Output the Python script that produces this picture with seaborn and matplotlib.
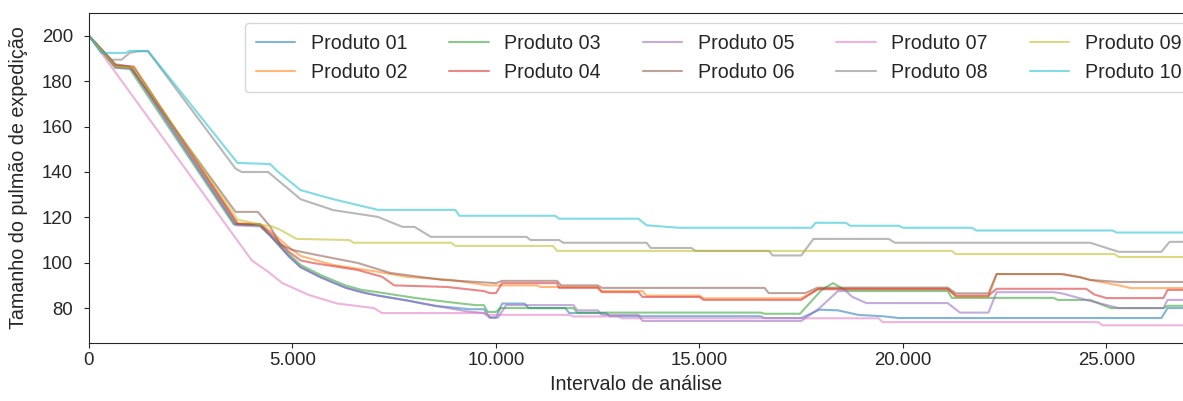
import pandas as pd
import seaborn as sns
import matplotlib.pyplot as plt
from matplotlib.ticker import FuncFormatter, MultipleLocator

# buffer size per product over the analysis interval (vertices)
names = ["Produto 01", "Produto 02", "Produto 03", "Produto 04", "Produto 05",
         "Produto 06", "Produto 07", "Produto 08", "Produto 09", "Produto 10"]

p01_x = [0, 650, 1050, 3600, 4200, 4450, 4900, 5200, 5700, 6300, 6700, 7100, 7800, 8500, 9350, 9700,
         9850, 10000, 10150, 10700, 10800, 11700, 11800, 12700, 12800, 16500, 16600, 17500, 17950,
         18400, 18900, 19500, 19900, 26350, 26500, 26900]
p01_y = [200, 186.5, 186, 117, 116.5, 112, 103, 98, 93.5, 89, 87, 85.5, 83.4, 81, 79.5, 79.5,
         75.8, 75.8, 82, 82, 80, 80, 77.8, 77.8, 76.4, 76.4, 75.6, 75.6, 79.3,
         79, 77, 76.4, 75.6, 75.6, 80, 80]

p02_x = [0, 650, 1100, 3650, 4200, 4450, 4900, 5200, 6000, 7100, 7800, 8900, 9800, 11000, 11100,
         12500, 12600, 13600, 13700, 15000, 15100, 17500, 17950, 21100, 21300, 22100, 22300, 23900,
         24350, 24600, 25300, 25600, 26900]
p02_y = [200, 187, 186, 117.5, 117, 114, 107, 103, 99, 96, 93.8, 92.4, 90, 90, 89.3,
         89.3, 87.5, 87.5, 85.5, 85.5, 84.3, 84.3, 88.6, 88.6, 85, 85, 95, 95,
         93.6, 92.4, 90, 88.8, 88.8]

p03_x = [0, 650, 1000, 3550, 4200, 4450, 4900, 5200, 5700, 6300, 6700, 7100, 8000, 8900, 9500,
         9700, 9800, 10000, 10100, 11900, 12000, 16500, 16600, 17470, 18000, 18280, 18620, 21100,
         21200, 23700, 23800, 24600, 25100, 26400, 26500, 26900]
p03_y = [200, 186, 185.5, 117, 116.5, 112, 104, 99, 94.5, 90, 88, 87, 84.5, 82.5, 81.3,
         81.3, 78.3, 78.3, 80, 80, 78, 78, 77.5, 77.5, 88, 91, 87.5, 87.5,
         84.5, 84.5, 83.6, 83.6, 80, 80, 81, 81]

p04_x = [0, 650, 1100, 3650, 4200, 4450, 4900, 5200, 5500, 6600, 7200, 7500, 8800, 9700, 9850,
         10000, 10150, 11500, 11550, 12500, 12600, 13500, 13600, 15000, 15100, 17500, 17900, 21100,
         21300, 22100, 22300, 24500, 24700, 25000, 26400, 26500, 26900]
p04_y = [200, 187, 186.5, 117, 117, 113, 105, 101, 99.9, 96.8, 93.8, 90, 89.3, 87.5, 86.6,
         86.6, 91, 91, 88.9, 88.9, 87, 87, 84.9, 84.9, 83.6, 83.6, 88.3, 88.3,
         85.5, 85.5, 88.5, 88.5, 86, 84.4, 84.4, 88, 88]

p05_x = [0, 650, 1050, 3600, 4200, 4450, 4900, 5200, 5700, 6300, 6700, 7100, 7800, 8500, 9300,
         9700, 9850, 10050, 10250, 11900, 12000, 12500, 12600, 13500, 13600, 17500, 17950, 18400,
         18600, 18750, 19100, 21100, 21400, 22100, 22300, 23700, 23900, 24500, 25300, 26400, 26500,
         26900]
p05_y = [200, 186, 185.5, 116.5, 116, 112, 103, 98, 93.5, 89, 87, 85.5, 83.4, 81, 78.5,
         77.8, 75.8, 75.8, 81.3, 81.3, 79, 79, 77, 77, 74.3, 74.3, 80, 87.5,
         87.5, 85, 82.2, 82.2, 78, 78, 87, 87, 86.5, 83.6, 80, 80, 83.6,
         83.6]

p06_x = [0, 650, 1000, 3600, 4150, 4450, 4700, 5000, 5600, 6600, 7400, 8700, 10000, 10150, 11500,
         11600, 12500, 12600, 16600, 16700, 17600, 17900, 21100, 21300, 22100, 22300, 23900, 24350,
         24600, 25300, 26900]
p06_y = [200, 187.5, 186.5, 122.4, 122.4, 116, 108, 105.6, 103.4, 99.9, 95.5, 92.4, 91, 92, 92,
         90, 90, 88.9, 88.9, 86.6, 86.6, 89, 89, 86.5, 86.5, 95, 95, 93.6,
         92.4, 91.5, 91.5]

p07_x = [0, 4000, 4400, 4750, 5400, 6100, 7000, 7200, 9700, 9800, 11800, 11900, 13000, 13100, 19400,
         19500, 24800, 24900, 26900]
p07_y = [200, 101, 96, 91, 85.8, 82, 80, 77.8, 77.8, 77, 77, 76.3, 76.3, 75.5, 75.5,
         73.8, 73.8, 72.4, 72.4]

p08_x = [0, 550, 800, 1000, 1200, 1450, 3600, 3750, 4400, 5200, 6000, 7100, 7700, 8000, 8400,
         10750, 10850, 11550, 11650, 13700, 13800, 14800, 14900, 16700, 16800, 17500, 17800, 19650,
         19800, 24600, 25300, 26350, 26550, 26900]
p08_y = [200, 189.5, 189.5, 192.5, 193.2, 193.2, 141.5, 140, 140, 128, 123.2, 120.2, 115.8, 115.8, 111.4,
         111.4, 110, 110, 108.8, 108.8, 106.5, 106.5, 105.2, 105.2, 103.2, 103.2, 110.5, 110.5,
         108.8, 108.8, 104.8, 104.8, 109.2, 109.2]

p09_x = [0, 650, 1100, 3650, 4300, 4500, 4700, 5100, 6400, 6500, 8900, 9000, 11400, 11500, 21200,
         21300, 25200, 25300, 26900]
p09_y = [200, 186.5, 186, 119, 116.5, 116, 114.5, 110.5, 110, 108.8, 108.8, 107.4, 107.4, 105.2, 105.2,
         103.8, 103.8, 102.5, 102.5]

p10_x = [0, 300, 900, 1000, 1450, 3650, 4450, 4650, 5200, 6000, 7100, 9000, 9100, 11450, 11550,
         13500, 13700, 14500, 17750, 17850, 18600, 18700, 19900, 20000, 21700, 21800, 25150, 25250,
         26900]
p10_y = [200, 192.5, 192.5, 193.4, 193.4, 144, 143.5, 140, 132, 128, 123.3, 123.3, 120.7, 120.7, 119.4,
         119.4, 116.5, 115.4, 115.4, 117.6, 117.6, 116.3, 116.3, 115.4, 115.4, 114.2, 114.2, 113.3,
         113.3]

all_x = [p01_x, p02_x, p03_x, p04_x, p05_x, p06_x, p07_x, p08_x, p09_x, p10_x]
all_y = [p01_y, p02_y, p03_y, p04_y, p05_y, p06_y, p07_y, p08_y, p09_y, p10_y]

frames = []
for name, xs, ys in zip(names, all_x, all_y):
    frames.append(pd.DataFrame({"intervalo": xs, "pulmao": ys, "produto": name}))
df = pd.concat(frames, ignore_index=True)

#%%-----------------------------------------------------------------------
sns.set_style("ticks")
plt.rcParams["font.family"] = ["Liberation Sans", "DejaVu Sans"]

fig = plt.figure(figsize=(11.83, 4.01), dpi=100)
ax = fig.add_axes([89 / 1183, 1 - 343 / 401, 1 - 89 / 1183, 330 / 401])

sns.lineplot(data=df, x="intervalo", y="pulmao", hue="produto", hue_order=names,
             palette="tab10", estimator=None, sort=False, alpha=0.55, linewidth=1.5,
             legend=False, ax=ax)

ax.set_xlim(0, 26880)
ax.set_ylim(64.6, 210.1)
ax.xaxis.set_major_locator(MultipleLocator(5000))
ax.yaxis.set_major_locator(MultipleLocator(20))
ax.xaxis.set_major_formatter(FuncFormatter(lambda v, p: f"{v:,.0f}".replace(",", ".")))
ax.tick_params(labelsize=13.4, length=3.5)
ax.tick_params(axis="x", pad=3)
ax.tick_params(axis="y", pad=8)
ax.spines["right"].set_visible(False)

ax.set_xlabel("Intervalo de análise", fontsize=14.2)
ax.set_ylabel("Tamanho do pulmão de expedição", fontsize=14.2)
ax.yaxis.set_label_coords(-0.056, 0.5)

ax.legend(ax.lines, names, ncol=5, loc="upper left", fontsize=14.1, borderaxespad=0,
          borderpad=0.55, columnspacing=2.15,
          bbox_to_anchor=(245 / 1183, 1 - 23 / 401), bbox_transform=fig.transFigure)

fig.savefig("out.png", dpi=100)
